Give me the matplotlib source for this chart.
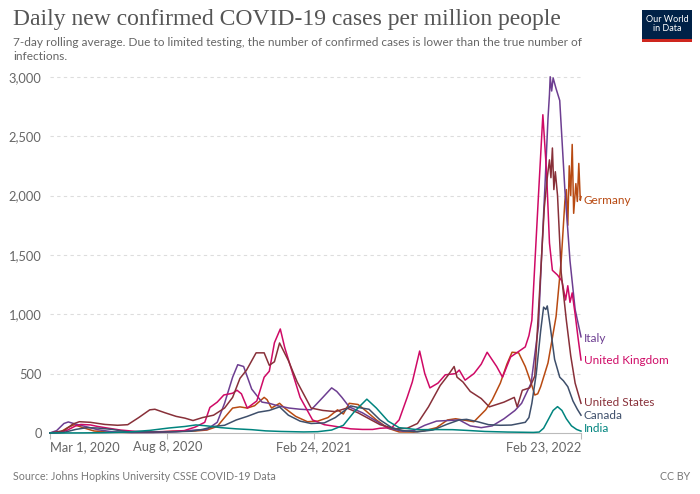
import numpy as np
import pandas as pd
import matplotlib
matplotlib.use("Agg")
import matplotlib.pyplot as plt
import matplotlib.dates as mdates
from matplotlib.patches import Rectangle

# valeurs (cas / million, moyenne 7 jours)

uk_dates = ["2020-03-01","2020-03-15","2020-03-25","2020-04-05","2020-04-12","2020-04-25","2020-05-05","2020-05-20",
            "2020-06-05","2020-06-25","2020-07-15","2020-08-10","2020-08-31","2020-09-15","2020-09-28","2020-10-05",
            "2020-10-15","2020-10-24","2020-11-05","2020-11-11","2020-11-17","2020-11-25","2020-12-08","2020-12-18",
            "2020-12-25","2021-01-01","2021-01-09","2021-01-15","2021-01-25","2021-02-05","2021-02-22","2021-03-10",
            "2021-03-31","2021-04-15","2021-05-01","2021-05-15","2021-05-25","2021-06-10","2021-06-20","2021-07-01",
            "2021-07-08","2021-07-18","2021-07-25","2021-08-01","2021-08-12","2021-08-22","2021-09-05","2021-09-10",
            "2021-09-18","2021-09-30","2021-10-10","2021-10-18","2021-10-31","2021-11-08","2021-11-19","2021-12-09",
            "2021-12-14","2021-12-18","2021-12-21","2021-12-27","2022-01-02","2022-01-07","2022-01-11","2022-01-15",
            "2022-01-22","2022-01-28","2022-02-02","2022-02-05","2022-02-08","2022-02-11","2022-02-15","2022-02-19",
            "2022-02-23"]
uk_vals = [0, 3, 25, 60, 72, 68, 55, 40,
           25, 14, 9, 13, 20, 50, 90, 215,
           260, 320, 335, 360, 330, 210, 270, 470,
           520, 760, 876, 720, 520, 300, 110, 70,
           50, 35, 30, 30, 40, 45, 110, 300,
           430, 690, 500, 380, 420, 490, 500, 530,
           445, 500, 580, 680, 560, 470, 640, 725,
           820, 950, 1300, 2000, 2680, 2200, 1600, 1370,
           1330, 1280, 1120, 1240, 1100, 1180, 1000, 800,
           615]

italy_dates = ["2020-03-01","2020-03-10","2020-03-20","2020-03-26","2020-04-05","2020-04-20","2020-05-05","2020-05-25",
               "2020-06-20","2020-07-20","2020-08-20","2020-09-15","2020-10-01","2020-10-15","2020-10-25","2020-11-05",
               "2020-11-12","2020-11-20","2020-12-01","2020-12-15","2020-12-25","2021-01-05","2021-01-21","2021-02-05",
               "2021-02-20","2021-03-08","2021-03-20","2021-03-27","2021-04-03","2021-04-13","2021-05-01","2021-05-20",
               "2021-06-05","2021-06-25","2021-07-10","2021-07-25","2021-08-10","2021-08-25","2021-09-10","2021-09-25",
               "2021-10-10","2021-10-25","2021-11-10","2021-11-25","2021-12-04","2021-12-17","2021-12-27","2021-12-31",
               "2022-01-05","2022-01-09","2022-01-11","2022-01-12","2022-01-14","2022-01-16","2022-01-20","2022-01-25",
               "2022-02-01","2022-02-08","2022-02-15","2022-02-23"]
italy_vals = [1, 20, 80, 93, 75, 52, 28, 10,
              4, 4, 10, 25, 30, 90, 250, 470,
              575, 560, 370, 260, 250, 230, 210, 200,
              195, 300, 380, 350, 300, 220, 170, 100,
              40, 15, 20, 65, 100, 105, 110, 60,
              45, 60, 120, 190, 250, 420, 900, 1450,
              2100, 2650, 2850, 3000, 2880, 2990, 2900, 2800,
              2050, 1450, 1040, 810]

us_dates = ["2020-03-01","2020-03-20","2020-04-01","2020-04-10","2020-04-25","2020-05-15","2020-06-01","2020-06-15",
            "2020-06-30","2020-07-15","2020-07-22","2020-08-05","2020-08-20","2020-09-01","2020-09-12","2020-09-25",
            "2020-10-10","2020-10-25","2020-11-05","2020-11-15","2020-11-24","2020-12-07","2020-12-18","2020-12-25",
            "2021-01-01","2021-01-08","2021-01-20","2021-02-01","2021-02-20","2021-03-08","2021-03-25","2021-04-10",
            "2021-04-25","2021-05-10","2021-05-25","2021-06-15","2021-07-01","2021-07-15","2021-07-30","2021-08-15",
            "2021-08-25","2021-09-03","2021-09-07","2021-09-15","2021-09-25","2021-10-10","2021-10-21","2021-11-10",
            "2021-11-24","2021-11-28","2021-12-05","2021-12-15","2021-12-22","2021-12-30","2022-01-04","2022-01-08",
            "2022-01-11","2022-01-13","2022-01-15","2022-01-17","2022-01-19","2022-01-22","2022-01-27","2022-02-03",
            "2022-02-09","2022-02-15","2022-02-23"]
us_vals = [0, 20, 75, 95, 90, 72, 65, 70,
           130, 195, 200, 170, 140, 125, 105, 130,
           150, 210, 300, 460, 530, 675, 675, 570,
           600, 758, 610, 430, 210, 190, 180, 210,
           170, 120, 70, 35, 40, 80, 220, 400,
           480, 560, 470, 430, 350, 290, 220, 260,
           300, 220, 360, 380, 480, 1350, 1900, 2150,
           2300, 2150, 2400, 2050, 2200, 2000, 1350, 950,
           650, 420, 250]

germany_dates = ["2020-03-01","2020-03-15","2020-03-25","2020-04-03","2020-04-15","2020-04-30","2020-05-20","2020-06-20",
                 "2020-07-20","2020-08-15","2020-09-15","2020-10-01","2020-10-15","2020-10-25","2020-11-05","2020-11-15",
                 "2020-11-25","2020-12-05","2020-12-18","2020-12-22","2020-12-28","2021-01-08","2021-01-15","2021-01-30",
                 "2021-02-15","2021-03-01","2021-03-15","2021-03-28","2021-04-05","2021-04-13","2021-04-25","2021-05-05",
                 "2021-05-20","2021-06-05","2021-06-20","2021-07-10","2021-07-25","2021-08-10","2021-08-25","2021-09-05",
                 "2021-09-15","2021-09-30","2021-10-16","2021-10-25","2021-11-05","2021-11-14","2021-11-21","2021-11-30",
                 "2021-12-09","2021-12-17","2021-12-22","2021-12-26","2021-12-30","2022-01-09","2022-01-20","2022-01-27",
                 "2022-02-01","2022-02-03","2022-02-05","2022-02-07","2022-02-09","2022-02-11","2022-02-13","2022-02-16",
                 "2022-02-18","2022-02-20","2022-02-22","2022-02-23"]
germany_vals = [0, 8, 45, 70, 45, 17, 7, 5,
                6, 15, 17, 25, 55, 130, 210, 220,
                210, 230, 300, 280, 210, 250, 210, 140,
                95, 100, 130, 195, 160, 250, 240, 190,
                110, 40, 9, 8, 20, 45, 110, 120,
                110, 95, 195, 280, 420, 580, 680, 675,
                560, 420, 320, 330, 390, 590, 980, 1450,
                1950, 2050, 1750, 2250, 2000, 2430, 1850, 2100,
                1950, 2270, 1960, 1990]

canada_dates = ["2020-03-01","2020-03-20","2020-04-05","2020-04-20","2020-05-05","2020-05-25","2020-06-15","2020-07-15",
                "2020-08-15","2020-09-10","2020-09-25","2020-10-10","2020-10-25","2020-11-10","2020-11-25","2020-12-10",
                "2020-12-25","2021-01-08","2021-01-20","2021-02-05","2021-02-20","2021-03-10","2021-03-25","2021-04-15",
                "2021-04-25","2021-05-10","2021-05-25","2021-06-10","2021-06-25","2021-07-15","2021-08-05","2021-08-25",
                "2021-09-10","2021-09-20","2021-10-05","2021-10-20","2021-11-05","2021-11-20","2021-12-09","2021-12-14",
                "2021-12-18","2021-12-24","2021-12-30","2022-01-03","2022-01-06","2022-01-08","2022-01-12","2022-01-18",
                "2022-01-25","2022-01-30","2022-02-05","2022-02-12","2022-02-18","2022-02-23"]
canada_vals = [0, 5, 30, 45, 42, 30, 10, 8,
               10, 15, 30, 55, 65, 110, 140, 175,
               190, 220, 150, 100, 80, 85, 130, 228,
               215, 200, 110, 45, 20, 10, 25, 75,
               110, 115, 95, 70, 65, 67, 90, 130,
               250, 500, 860, 1060, 1040, 1070, 900, 620,
               470, 440, 390, 270, 200, 150]

india_dates = ["2020-03-01","2020-04-15","2020-05-15","2020-06-15","2020-07-15","2020-08-10","2020-09-01","2020-09-16",
               "2020-10-01","2020-10-20","2020-11-10","2020-12-01","2020-12-20","2021-01-10","2021-02-10","2021-03-01",
               "2021-03-20","2021-04-05","2021-04-20","2021-05-07","2021-05-20","2021-06-05","2021-06-20","2021-07-15",
               "2021-08-10","2021-09-01","2021-09-20","2021-10-15","2021-11-15","2021-12-20","2021-12-28","2022-01-03",
               "2022-01-10","2022-01-16","2022-01-22","2022-01-28","2022-02-03","2022-02-10","2022-02-17","2022-02-23"]
india_vals = [0, 1, 3, 8, 22, 42, 55, 68,
              60, 45, 35, 28, 18, 13, 9, 11,
              25, 65, 180, 285, 210, 100, 45, 28,
              29, 28, 22, 13, 8, 5, 8, 40,
              120, 190, 222, 190, 120, 60, 30, 16]

pays = ["Germany", "Italy", "United Kingdom", "United States", "Canada", "India"]
couleurs = ["#b84a12", "#6d3e91", "#cf0a66", "#883039", "#3e4f6b", "#00847e"]
donnees = [(germany_dates, germany_vals), (italy_dates, italy_vals), (uk_dates, uk_vals),
           (us_dates, us_vals), (canada_dates, canada_vals), (india_dates, india_vals)]
label_y = [1960, 800, 610, 255, 150, 40]

fig = plt.figure(figsize=(7, 4.94), dpi=100)
ax = fig.add_axes([50/700, 61/494, 531/700, 361/494])

for nom, c, (d, v), ly in zip(pays, couleurs, donnees, label_y):
	ax.plot(pd.to_datetime(d), v, color=c, lw=1.1, clip_on=False, zorder=3)
	ax.text(pd.Timestamp("2022-02-23") + pd.Timedelta(days=4), ly, nom, color=c,
	        fontsize=8.5, family="Lato", va="center", ha="left")

debut = pd.Timestamp("2020-03-01")
fin = pd.Timestamp("2022-02-23")
ax.set_xlim(debut, fin)
ax.set_ylim(0, 3040)

ticks_y = [0, 500, 1000, 1500, 2000, 2500, 3000]
ax.set_yticks(ticks_y)
ax.set_yticklabels(["0", "500", "1,000", "1,500", "2,000", "2,500", "3,000"])
for t in ticks_y[1:]:
	ax.axhline(t, color="#dddddd", lw=0.8, ls=(0, (3, 3)), zorder=1)

ticks_x = pd.to_datetime(["2020-03-01", "2020-08-08", "2021-02-24", "2022-02-23"])
ax.set_xticks(ticks_x)
ax.set_xticklabels(["Mar 1, 2020", "Aug 8, 2020", "Feb 24, 2021", "Feb 23, 2022"])
labs = ax.get_xticklabels()
labs[0].set_ha("left")
labs[-1].set_ha("right")

for s in ["top", "right", "left"]:
	ax.spines[s].set_visible(False)
ax.spines["bottom"].set_color("#bbbbbb")
ax.tick_params(axis="y", length=0, pad=6, labelsize=9.3, labelcolor="#666666")
ax.tick_params(axis="x", length=4, color="#bbbbbb", pad=2, labelsize=9.3, labelcolor="#666666")
for l in ax.get_xticklabels() + ax.get_yticklabels():
	l.set_family("Lato")

# titre et textes
fig.text(13/700, 1-20/494, "Daily new confirmed COVID-19 cases per million people",
         family="Liberation Serif", fontsize=17, color="#555555", va="center")
fig.text(13/700, 1-43/494, "7-day rolling average. Due to limited testing, the number of confirmed cases is lower than the true number of",
         family="Lato", fontsize=8.6, color="#666666", va="center")
fig.text(13/700, 1-56/494, "infections.", family="Lato", fontsize=8.6, color="#666666", va="center")
fig.text(13/700, 1-476/494, "Source: Johns Hopkins University CSSE COVID-19 Data",
         family="Lato", fontsize=7.7, color="#777777", va="center")
fig.text(690/700, 1-476/494, "CC BY", family="Lato", fontsize=7.7, color="#777777", va="center", ha="right")

# logo
fig.patches.append(Rectangle((642/700, 1-42/494), 50/700, 32/494, transform=fig.transFigure,
                             facecolor="#002147", edgecolor="none"))
fig.patches.append(Rectangle((642/700, 1-42/494), 50/700, 3/494, transform=fig.transFigure,
                             facecolor="#ce261e", edgecolor="none"))
fig.text(667/700, 1-24/494, "Our World\nin Data", family="Lato", fontsize=6.5, color="white",
         ha="center", va="center", linespacing=1.0)

fig.savefig("out.png", dpi=100)
